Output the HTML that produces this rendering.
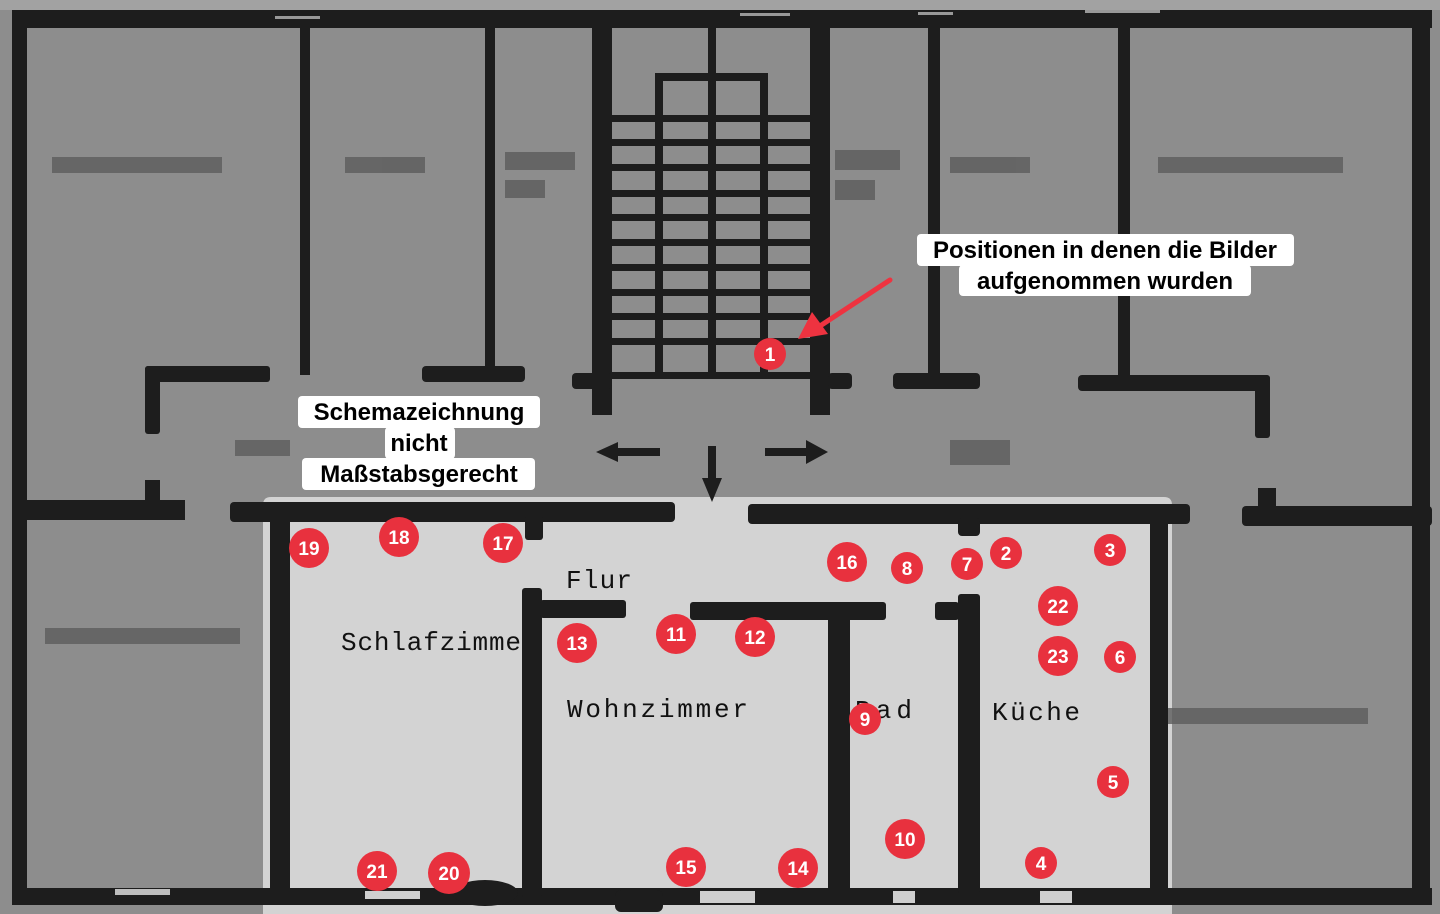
<!DOCTYPE html>
<html><head><meta charset="utf-8"><style>
html,body{margin:0;padding:0;background:#8e8e8e;}
svg{display:block}
.lb{font-family:"Liberation Sans",sans-serif;font-weight:bold;font-size:24px;fill:#000}
.rm{font-family:"Liberation Mono",monospace;font-size:26px;fill:#111}
.n{font-family:"Liberation Sans",sans-serif;font-weight:bold;font-size:19px;fill:#fff;text-anchor:middle}
</style></head><body>
<svg width="1440" height="914" viewBox="0 0 1440 914">
<rect width="1440" height="914" fill="#8d8d8d"/>
<rect x="0" y="0" width="1440" height="10" fill="#a2a2a2"/>
<path d="M263 505 Q263 497 271 497 L1164 497 Q1172 497 1172 505 L1172 914 L263 914 Z" fill="#d3d3d3"/>
<g fill="#1d1d1d">
<rect x="12" y="10" width="1420" height="18"/>
<rect x="12" y="10" width="15" height="895"/>
<rect x="1412" y="10" width="18" height="895"/>
<rect x="12" y="888" width="1420" height="17"/>
<rect x="300" y="25" width="10" height="350"/>
<rect x="485" y="25" width="10" height="350"/>
<rect x="592" y="25" width="20" height="390"/>
<rect x="810" y="25" width="20" height="390"/>
<rect x="928" y="25" width="12" height="355"/>
<rect x="1118" y="25" width="12" height="355"/>
<rect x="145" y="366" width="125" height="16" rx="3"/>
<rect x="145" y="366" width="15" height="68" rx="3"/>
<rect x="422" y="366" width="103" height="16" rx="4"/>
<rect x="572" y="373" width="40" height="16" rx="4"/>
<rect x="828" y="373" width="24" height="16" rx="4"/>
<rect x="893" y="373" width="87" height="16" rx="4"/>
<rect x="1078" y="375" width="192" height="16" rx="4"/>
<rect x="1255" y="375" width="15" height="63" rx="3"/>
<rect x="655" y="73" width="110" height="8"/>
<rect x="655" y="73" width="8" height="300"/>
<rect x="708" y="25" width="8" height="350"/>
<rect x="760" y="73" width="8" height="300"/>
<g>
<rect x="612" y="115" width="198" height="7"/>
<rect x="612" y="139" width="198" height="7"/>
<rect x="612" y="164" width="198" height="7"/>
<rect x="612" y="190" width="198" height="7"/>
<rect x="612" y="214" width="198" height="7"/>
<rect x="612" y="239" width="198" height="7"/>
<rect x="612" y="264" width="198" height="7"/>
<rect x="612" y="289" width="198" height="7"/>
<rect x="612" y="313" width="198" height="7"/>
<rect x="612" y="338" width="198" height="7"/>
<rect x="612" y="372" width="198" height="7"/>
</g>
<rect x="610" y="448" width="50" height="8"/>
<polygon points="596,452 618,442 618,462"/>
<rect x="765" y="448" width="45" height="8"/>
<polygon points="828,452 806,440 806,464"/>
<rect x="708" y="446" width="8" height="40"/>
<polygon points="712,502 702,478 722,478"/>
<rect x="12" y="500" width="173" height="20"/>
<rect x="145" y="480" width="15" height="25"/>
<rect x="230" y="502" width="445" height="20" rx="4"/>
<rect x="748" y="504" width="442" height="20" rx="4"/>
<rect x="1242" y="506" width="190" height="20" rx="4"/>
<rect x="1258" y="488" width="18" height="25"/>
<rect x="270" y="505" width="20" height="395"/>
<rect x="525" y="515" width="18" height="25" rx="3"/>
<rect x="522" y="588" width="20" height="310" rx="3"/>
<rect x="540" y="600" width="86" height="18" rx="3"/>
<rect x="690" y="602" width="196" height="18" rx="3"/>
<rect x="828" y="605" width="22" height="290"/>
<rect x="935" y="602" width="24" height="18" rx="3"/>
<rect x="958" y="594" width="22" height="300" rx="3"/>
<rect x="958" y="518" width="22" height="18" rx="4"/>
<rect x="1150" y="505" width="18" height="395"/>
<ellipse cx="485" cy="893" rx="33" ry="13"/>
<rect x="615" y="890" width="48" height="22" rx="6"/>
</g>
<g fill="#cfcfcf">
<rect x="365" y="891" width="55" height="8"/>
<rect x="700" y="891" width="55" height="12"/>
<rect x="1040" y="891" width="32" height="12"/>
<rect x="893" y="891" width="22" height="12"/>
<rect x="115" y="889" width="55" height="6" fill="#bdbdbd"/>
<rect x="275" y="16" width="45" height="3" fill="#999"/>
<rect x="740" y="13" width="50" height="3" fill="#999"/>
<rect x="918" y="12" width="35" height="3" fill="#999"/>
<rect x="1085" y="10" width="75" height="3" fill="#999"/>
</g>
<g fill="#5c5c5c" opacity="0.8">
<rect x="52" y="157" width="170" height="16"/>
<rect x="345" y="157" width="80" height="16"/>
<rect x="505" y="152" width="70" height="18"/>
<rect x="505" y="180" width="40" height="18"/>
<rect x="835" y="150" width="65" height="20"/>
<rect x="835" y="180" width="40" height="20"/>
<rect x="950" y="157" width="80" height="16"/>
<rect x="1158" y="157" width="185" height="16"/>
<rect x="235" y="440" width="55" height="16"/>
<rect x="950" y="440" width="60" height="25"/>
<rect x="45" y="628" width="195" height="16"/>
<rect x="1168" y="708" width="200" height="16"/>
</g>
<text class="rm" x="566" y="588" textLength="66" lengthAdjust="spacing">Flur</text>
<text class="rm" x="341" y="650" textLength="180" lengthAdjust="spacing">Schlafzimme</text>
<text class="rm" x="567" y="717" textLength="181" lengthAdjust="spacing">Wohnzimmer</text>
<text class="rm" x="855" y="718" textLength="57" lengthAdjust="spacing">Bad</text>
<text class="rm" x="992" y="720" textLength="88" lengthAdjust="spacing">Küche</text>
<g fill="#fff">
<rect x="298" y="396" width="242" height="32" rx="4"/>
<rect x="385" y="427" width="70" height="32" rx="4"/>
<rect x="302" y="458" width="233" height="32" rx="4"/>
<rect x="917" y="234" width="377" height="32" rx="4"/>
<rect x="959" y="265" width="292" height="31" rx="4"/>
</g>
<text class="lb" x="419" y="420" text-anchor="middle">Schemazeichnung</text>
<text class="lb" x="419" y="451" text-anchor="middle">nicht</text>
<text class="lb" x="419" y="482" text-anchor="middle">Maßstabsgerecht</text>
<text class="lb" x="1105" y="258" text-anchor="middle">Positionen in denen die Bilder</text>
<text class="lb" x="1105" y="289" text-anchor="middle">aufgenommen wurden</text>
<line x1="890" y1="280" x2="820" y2="326" stroke="#ee3340" stroke-width="5" stroke-linecap="round"/>
<polygon points="798,339 812,312 828,334" fill="#ee3340"/>
<g fill="#e8313e">
<circle cx="770" cy="354" r="16"/>
<circle cx="1006" cy="553" r="16"/><circle cx="1110" cy="550" r="16"/>
<circle cx="1041" cy="863" r="16"/><circle cx="1113" cy="782" r="16"/>
<circle cx="1120" cy="657" r="16"/><circle cx="967" cy="564" r="16"/>
<circle cx="907" cy="568" r="16"/><circle cx="865" cy="719" r="16"/>
<circle cx="905" cy="839" r="20"/><circle cx="676" cy="634" r="20"/>
<circle cx="755" cy="637" r="20"/><circle cx="577" cy="643" r="20"/>
<circle cx="798" cy="868" r="20"/><circle cx="686" cy="867" r="20"/>
<circle cx="847" cy="562" r="20"/><circle cx="503" cy="543" r="20"/>
<circle cx="399" cy="537" r="20"/><circle cx="309" cy="548" r="20"/>
<circle cx="449" cy="873" r="21"/><circle cx="377" cy="871" r="20"/>
<circle cx="1058" cy="606" r="20"/><circle cx="1058" cy="656" r="20"/>
</g>
<g>
<text class="n" x="770" y="361">1</text>
<text class="n" x="1006" y="560">2</text><text class="n" x="1110" y="557">3</text>
<text class="n" x="1041" y="870">4</text><text class="n" x="1113" y="789">5</text>
<text class="n" x="1120" y="664">6</text><text class="n" x="967" y="571">7</text>
<text class="n" x="907" y="575">8</text><text class="n" x="865" y="726">9</text>
<text class="n" x="905" y="846">10</text><text class="n" x="676" y="641">11</text>
<text class="n" x="755" y="644">12</text><text class="n" x="577" y="650">13</text>
<text class="n" x="798" y="875">14</text><text class="n" x="686" y="874">15</text>
<text class="n" x="847" y="569">16</text><text class="n" x="503" y="550">17</text>
<text class="n" x="399" y="544">18</text><text class="n" x="309" y="555">19</text>
<text class="n" x="449" y="880">20</text><text class="n" x="377" y="878">21</text>
<text class="n" x="1058" y="613">22</text><text class="n" x="1058" y="663">23</text>
</g>
</svg>
</body></html>
